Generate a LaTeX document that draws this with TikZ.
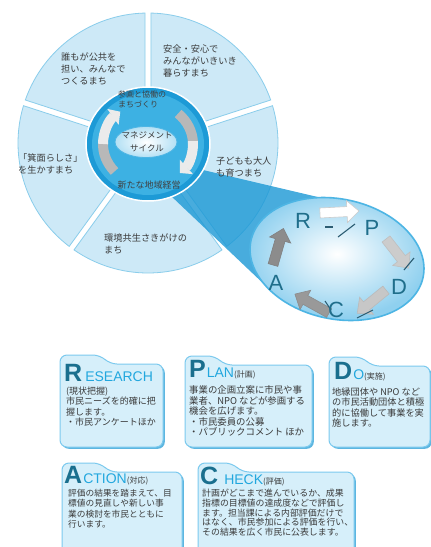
\documentclass[tikz,border=0pt]{standalone}
\usepackage{fontspec}
\newfontfamily\jp{Noto Sans CJK JP}
\newfontfamily\lat{Liberation Sans}
\usetikzlibrary{arrows.meta,calc}
\definecolor{segfill}{HTML}{CDE9F7}
\definecolor{segline}{HTML}{8ACDEB}
\definecolor{ringdark}{HTML}{1D9AD6}
\definecolor{ringmid}{HTML}{3DB1E3}
\definecolor{beamblue}{HTML}{1B98D5}
\definecolor{lensline}{HTML}{4DB5E4}
\definecolor{lensouter}{HTML}{8FD0EF}
\definecolor{centerouter}{HTML}{B3E0F4}
\definecolor{letterteal}{HTML}{1F6E8B}
\definecolor{bigletter}{HTML}{1A6F8E}
\definecolor{smallletter}{HTML}{22A7DE}
\definecolor{boxfill}{HTML}{D6EFFA}
\definecolor{boxline}{HTML}{7CCAEE}
\definecolor{boxshade}{HTML}{5DB6E0}
\definecolor{bodytext}{HTML}{3A3A3A}
\definecolor{shadowline}{HTML}{2C5D73}
\newcommand\bigL[1]{{\color{bigletter}\lat\bfseries\fontsize{25}{25}\selectfont #1}}
\newcommand\smallL[1]{{\color{smallletter}\lat\fontsize{14}{14}\selectfont #1}}
\newcommand\parenL[1]{{\color{bodytext}\jp\fontsize{8}{8}\selectfont #1}}
\newcommand\tabbox[6]{%
 \fill[boxshade, rounded corners=7] ({#2+1.8},{-#5-1.8}) -- ({#2+1.8},{-#3-1.8}) -- ({#6+1.8},{-#3-1.8}) -- ({#6+11.8},{-#3-10.8}) -- ({#4+1.8},{-#3-10.8}) -- ({#4+1.8},{-#5-1.8}) -- cycle;
 \filldraw[fill=boxfill, draw=boxline, line width=1, rounded corners=7] (#2,-#5) -- (#2,-#3) -- (#6,-#3) -- ({#6+10},{-#3-9}) -- (#4,{-#3-9}) -- (#4,-#5) -- cycle;
 \coordinate (#1) at (#2,-#3);}
\newcommand\blockarrow[5]{%
 \begin{scope}[shift={(#1,-#2)}, rotate=#3]
 \filldraw[#5] (0,-5) -- ({#4-12},-5) -- ({#4-12},-11) -- (#4,0) -- ({#4-12},11) -- ({#4-12},5) -- (0,5) -- cycle;
 \end{scope}}
\tikzset{
 seg/.style={fill=segfill, draw=segline, line width=0.8},
 segtxt/.style={anchor=north west, inner sep=0, align=left, text=bodytext, font=\jp\fontsize{9.2}{12.3}\selectfont},
 ringtxt/.style={inner sep=0, align=left, text=black!75, font=\jp\fontsize{8}{10.5}\selectfont},
 lensletter/.style={inner sep=0, text=letterteal, font=\lat\fontsize{22}{22}\selectfont},
 boxhead/.style={anchor=base west, inner sep=0},
 boxbody/.style={anchor=north west, inner sep=0, align=left, text=bodytext},
 ringarrowdark/.style={line width=10, draw=black!28},
 ringarrowlight/.style={line width=10, draw=black!8, -{Triangle[length=9,width=19]}},
 shline/.style={draw=shadowline, line width=1.1}
}
\begin{document}
\begin{tikzpicture}[x=1pt,y=1pt]
\clip (0,0) rectangle (431,-547);
\fill[white] (0,0) rectangle (431,-547);
% segments of the outer wheel
\begin{scope}[shift={(148,-143)}]
\foreach \a in {18,90,162,234,306}{
 \pgfmathsetmacro\b{\a+72}
 \draw[seg] ({\a+3.44}:50) -- ({\a+1.32}:130) arc[start angle={\a+1.32}, end angle={\b-1.32}, radius=130] -- ({\b-3.44}:50) arc[start angle={\b-3.44}, end angle={\a+3.44}, radius=50] -- cycle;
}
\end{scope}
% beam to lens
\fill[beamblue, opacity=0.8] (186,-166) -- (322,-198) -- (267,-287) -- (170,-195) -- cycle;
% inner ring
\filldraw[fill=ringdark, draw=white, line width=1.5] (148,-144) ellipse [x radius=62, y radius=57];
\fill[ringmid] (148,-144) ellipse [x radius=56, y radius=51];
% ring arrows
\begin{scope}[shift={(148,-144)}]
\draw[ringarrowdark] (222:45 and 41) arc[start angle=222, end angle=178, x radius=45, y radius=41];
\draw[ringarrowlight] (180:45 and 41) arc[start angle=180, end angle=128, x radius=45, y radius=41];
\draw[ringarrowdark] (48:45 and 41) arc[start angle=48, end angle=2, x radius=45, y radius=41];
\draw[ringarrowlight] (4:45 and 41) arc[start angle=4, end angle=-45, x radius=45, y radius=41];
\end{scope}
\node[ringtxt, anchor=north west] (ringtop) at (118,-90.5) {参画と協働の\\まちづくり};
\node[ringtxt, font=\jp\fontsize{9}{10}\selectfont] (ringbottom) at (149,-185) {新たな地域経営};
% central ellipse
\shade[inner color=white, outer color=centerouter] (146,-142) ellipse [x radius=31, y radius=15.5];
\draw[lensline, line width=0.8] (146,-142) ellipse [x radius=31, y radius=15.5];
\node[inner sep=0, align=center, text=bodytext, font=\jp\fontsize{8.5}{13}\selectfont] (cycle) at (147,-141.5) {マネジメント\\サイクル};
% lens
\shade[inner color=white, outer color=lensouter, rotate around={-12:(337,-259)}] (337,-259) ellipse [x radius=88, y radius=60];
\draw[lensline, line width=1.6, rotate around={-12:(337,-259)}] (337,-259) ellipse [x radius=88, y radius=60];
% lens arrows
\blockarrow{320}{213}{3}{39}{fill=white, draw=black!20, line width=0.6}
\blockarrow{386}{239}{-52}{37}{fill=black!20, draw=black!25, line width=0.6}
\blockarrow{386}{290}{-141}{37}{fill=black!22, draw=black!27, line width=0.6}
\blockarrow{329}{313}{151}{39}{fill=black!40, draw=black!45, line width=0.6}
\blockarrow{273}{265}{74}{38}{fill=black!45, draw=black!50, line width=0.6}
\draw[shline] (325,-227) -- (333,-227);
\draw[shline] (338,-237) -- (355,-224);
\draw[shline] (404,-270) -- (414,-258);
\draw[shline] (357,-318) -- (373,-310);
\draw[shline] (325,-301) -- (331,-310);
\node[lensletter] (lR) at (303,-221) {R};
\node[lensletter] (lP) at (372,-228) {P};
\node[lensletter] (lD) at (399,-287) {D};
\node[lensletter] (lC) at (336,-310) {C};
\node[lensletter] (lA) at (276,-283) {A};
% segment labels
\node[segtxt] (s1) at (61,-52.3) {誰もが公共を\\担い、みんなで\\つくるまち};
\node[segtxt] (s2) at (163,-44.3) {安全・安心で\\みんながいきいき\\暮らすまち};
\node[segtxt] (s3) at (216,-156.3) {子どもも大人\\も育つまち};
\node[segtxt] (s4) at (18,-153.3) {「箕面らしさ」\\を生かすまち};
\node[segtxt] (s5) at (104,-233.3) {環境共生さきがけの\\まち};
% boxes
\tabbox{bR}{60}{355}{163}{447}{100}
\tabbox{bP}{185}{356}{312}{447}{215}
\tabbox{bD}{329}{357}{430}{447}{362}
\tabbox{bA}{62}{463}{182}{560}{100}
\tabbox{bC}{198}{463}{354}{560}{232}
\node[boxhead] (hR) at (64,-381) {\bigL{R}\hspace{3pt}\smallL{ESEARCH}};
\node[boxhead] (hP) at (189,-377) {\bigL{P}\hspace{1pt}\smallL{LAN}\parenL{(計画)}};
\node[boxhead] (hD) at (334,-379) {\bigL{D}\hspace{1pt}\smallL{O}\parenL{(実施)}};
\node[boxhead] (hA) at (64,-483) {\bigL{A}\hspace{1pt}\smallL{CTION}\parenL{(対応)}};
\node[boxhead] (hC) at (200,-484) {\bigL{C}\hspace{6pt}\smallL{HECK}\parenL{(評価)}};
\node[boxbody, font=\jp\fontsize{9}{10.5}\selectfont] (tR) at (66,-386.5) {(現状把握)\\市民ニーズを的確に把\\握します。\\・市民アンケートほか};
\node[boxbody, font=\jp\fontsize{9.4}{10.5}\selectfont] (tP) at (189,-385.5) {事業の企画立案に市民や事\\業者、NPO などが参画する\\機会を広げます。\\・市民委員の公募\\・パブリックコメント ほか};
\node[boxbody, font=\jp\fontsize{9.2}{10.3}\selectfont] (tD) at (332,-387.5) {地縁団体や NPO など\\の市民活動団体と積極\\的に協働して事業を実\\施します。};
\node[boxbody, font=\jp\fontsize{8.7}{10.5}\selectfont] (tA) at (68,-488.5) {評価の結果を踏まえて、目\\標値の見直しや新しい事\\業の検討を市民とともに\\行います。};
\node[boxbody, font=\jp\fontsize{8.9}{9.9}\selectfont] (tC) at (202,-488.5) {計画がどこまで進んでいるか、成果\\指標の目標値の達成度などで評価し\\ます。担当課による内部評価だけで\\はなく、市民参加による評価を行い、\\その結果を広く市民に公表します。};
\end{tikzpicture}
\end{document}
